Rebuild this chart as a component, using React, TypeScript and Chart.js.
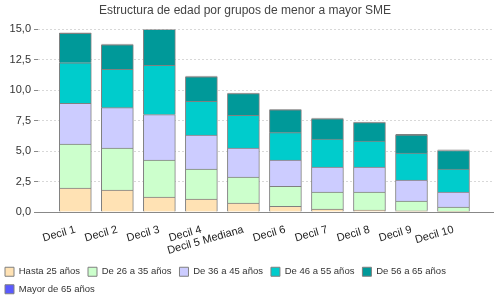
import React, { useEffect, useRef } from "react";
import { Chart, registerables } from "chart.js";

Chart.register(...registerables);

const title = "Estructura de edad por grupos de menor a mayor SME";
const categories = [
  "Decil 1",
  "Decil 2",
  "Decil 3",
  "Decil 4",
  "Decil 5 Mediana",
  "Decil 6",
  "Decil 7",
  "Decil 8",
  "Decil 9",
  "Decil 10",
];
const seriesNames = [
  "Hasta 25 años",
  "De 26 a 35 años",
  "De 36 a 45 años",
  "De 46 a 55 años",
  "De 56 a 65 años",
  "Mayor de 65 años",
];
const hasta25 = [1.97, 1.8, 1.23, 1.07, 0.74, 0.46, 0.25, 0.16, 0.1, 0.05];
const de26a35 = [3.6, 3.45, 3.03, 2.45, 2.13, 1.64, 1.39, 1.48, 0.8, 0.36];
const de36a45 = [3.36, 3.32, 3.74, 2.79, 2.38, 2.16, 2.05, 2.05, 1.72, 1.23];
const de46a55 = [3.33, 3.15, 4.05, 2.79, 2.7, 2.26, 2.29, 2.13, 2.22, 1.88];
const de56a65 = [2.41, 2.02, 2.95, 2.01, 1.77, 1.87, 1.67, 1.52, 1.47, 1.53];
const mayor65 = [0.08, 0.08, 0.07, 0.08, 0.08, 0.08, 0.09, 0.07, 0.09, 0.09];
const yTicks = [0, 2.5, 5, 7.5, 10, 12.5, 15];

const colors = ["#FFE2B4", "#CCFFCC", "#CCCCFF", "#00CCCC", "#009999", "#5A5AFF"];
const FONT = "'Liberation Sans', Arial, sans-serif";

export default function App() {
  const ref = useRef<HTMLCanvasElement | null>(null);

  useEffect(() => {
    const canvas = ref.current;
    if (!canvas) return;
    const all = [hasta25, de26a35, de36a45, de46a55, de56a65, mayor65];
    const chart = new Chart(canvas, {
      type: "bar",
      data: {
        datasets: all.map((arr, s) => ({
          label: seriesNames[s],
          data: arr.map((v, i) => ({ x: i, y: v })),
          backgroundColor: colors[s],
          borderColor: "#808080",
          borderWidth: 1,
          borderSkipped: s === all.length - 1 ? false : "start",
          inflateAmount: s === all.length - 1 ? 0 : "auto",
          barThickness: 32,
        })),
      },
      options: {
        animation: false,
        responsive: false,
        maintainAspectRatio: false,
        layout: { padding: { left: -3, right: 7, top: 0, bottom: -4 } },
        plugins: {
          title: {
            display: true,
            text: title,
            color: "#444",
            font: { family: FONT, size: 12, weight: "normal" },
            padding: { top: 3, bottom: 12 },
          },
          legend: {
            display: true,
            position: "bottom",
            align: "start",
            labels: {
              boxWidth: 9,
              boxHeight: 9,
              padding: 8,
              color: "#333",
              font: { family: FONT, size: 9.5 },
            },
          },
          tooltip: { enabled: false },
        },
        scales: {
          x: {
            type: "linear",
            stacked: true,
            offset: false,
            min: -0.888,
            max: 9.94,
            afterBuildTicks: (scale: any) => {
              scale.ticks = categories.map((_, i) => ({ value: i }));
            },
            afterFit: (scale: any) => {
              scale.height = 47;
            },
            grid: { display: false },
            border: { display: true, color: "#888", width: 1 },
            ticks: {
              autoSkip: false,
              minRotation: 16,
              maxRotation: 16,
              padding: 3,
              color: "#222",
              font: { family: FONT, size: 11 },
              callback: (v: any) => categories[v] ?? "",
            },
          },
          y: {
            type: "linear",
            stacked: true,
            min: 0,
            max: 15,
            afterBuildTicks: (scale: any) => {
              scale.ticks = yTicks.map((v) => ({ value: v }));
            },
            afterFit: (scale: any) => {
              scale.width = 41;
            },
            grid: {
              color: "#d8d8d8",
              tickColor: "#888",
              tickLength: 4,
              drawTicks: true,
            },
            border: { display: false, dash: [2, 2] },
            ticks: {
              color: "#333",
              padding: 3,
              font: { family: FONT, size: 11 },
              callback: (v: any) => Number(v).toFixed(1).replace(".", ","),
            },
          },
        },
      },
    });
    return () => chart.destroy();
  }, []);

  return (
    <div style={{ position: "absolute", left: 0, top: 0, width: 500, height: 300, background: "#fff" }}>
      <canvas ref={ref} width={500} height={300} style={{ width: 500, height: 300, display: "block" }} />
    </div>
  );
}
